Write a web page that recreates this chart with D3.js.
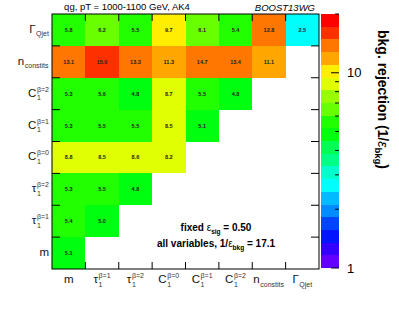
<!DOCTYPE html>
<html><head><meta charset="utf-8">
<script src="https://cdn.jsdelivr.net/npm/d3@7"></script>
<style>body{margin:0;background:#fff;} text{font-family:"Liberation Sans",Arial,sans-serif;}</style>
</head><body><svg id="c" width="399" height="309"></svg>
<script>
// variables: left-to-right on x
const varNames = ["m","tau1","tau2","C0","C1","C2","ncon","gamma"];
// rows top to bottom
const rowVars = ["gamma","ncon","C2","C1","C0","tau2","tau1","m"];
const rowGamma = [5.8, 6.2, 5.5, 9.7, 6.1, 5.4, 12.8, 2.5];
const rowNcon  = [13.1, 15.0, 13.3, 11.3, 14.7, 13.4, 11.1];
const rowC2    = [5.3, 5.6, 4.8, 8.7, 5.5, 4.8];
const rowC1    = [5.3, 5.5, 5.5, 8.5, 5.1];
const rowC0    = [8.8, 8.5, 8.6, 8.2];
const rowTau2  = [5.3, 5.5, 4.8];
const rowTau1  = [5.4, 5.0];
const rowM     = [5.1];
const rowsData = [rowGamma,rowNcon,rowC2,rowC1,rowC0,rowTau2,rowTau1,rowM];
const zMin = 1, zMax = 20, nContours = 20;
const colorbarTicks = [1, 10];
const minorTicks = [2,3,4,5,6,7,8,9,20];

const labels = {
  m:{main:"m"},
  tau1:{main:"τ",sub:"1",sup:"β=1"},
  tau2:{main:"τ",sub:"1",sup:"β=2"},
  C0:{main:"C",sub:"1",sup:"β=0"},
  C1:{main:"C",sub:"1",sup:"β=1"},
  C2:{main:"C",sub:"1",sup:"β=2"},
  ncon:{main:"n",sub:"constits"},
  gamma:{main:"Γ",sub:"Qjet"}
};

const svg = d3.select("#c");
const X0=52, X1=319, Y0=14, Y1=269;
const x = d3.scaleBand().domain(varNames).range([X0,X1]);
const y = d3.scaleBand().domain(rowVars).range([Y0,Y1]);

// ROOT pretty palette (HLS, hue 280 -> 0, 50 colours) and contour mapping
const pal = d3.range(50).map(i => d3.hsl(280-(i+1)*5.6, 1, 0.5).formatHex());
const contourColor = k => pal[Math.floor((k+0.99)*50/nContours)];
const L = Math.log10(zMax) - Math.log10(zMin);
const colorOf = v => {
  let k = Math.floor((Math.log10(v)-Math.log10(zMin))/L*nContours);
  k = Math.max(0, Math.min(nContours-1, k));
  return contourColor(k);
};

const cells = [];
rowsData.forEach((row,i)=>row.forEach((v,j)=>cells.push({r:rowVars[i], c:varNames[j], v})));

svg.append("g").selectAll("rect").data(cells).join("rect")
  .attr("x",d=>x(d.c)).attr("y",d=>y(d.r))
  .attr("width",x.bandwidth()).attr("height",y.bandwidth())
  .attr("fill",d=>colorOf(d.v)).attr("shape-rendering","crispEdges");
svg.append("g").selectAll("text").data(cells).join("text")
  .attr("x",d=>x(d.c)+x.bandwidth()/2).attr("y",d=>y(d.r)+y.bandwidth()/2+2)
  .attr("text-anchor","middle").attr("font-size",5.5).attr("font-weight","bold")
  .attr("fill","#222").text(d=>d.v.toFixed(1));

// frame
svg.append("rect").attr("x",X0).attr("y",Y0).attr("width",X1-X0).attr("height",Y1-Y0)
  .attr("fill","none").attr("stroke","#000").attr("stroke-width",1);
// ticks
const tk = svg.append("g").attr("stroke","#000").attr("stroke-width",1);
rowVars.slice(1).forEach(r=>{
  const yy = y(r);
  tk.append("line").attr("x1",X0).attr("x2",X0+8).attr("y1",yy).attr("y2",yy);
  tk.append("line").attr("x1",X1).attr("x2",X1-8).attr("y1",yy).attr("y2",yy);
});
varNames.slice(1).forEach(c=>{
  const xx = x(c);
  tk.append("line").attr("x1",xx).attr("x2",xx).attr("y1",Y1).attr("y2",Y1-7);
  tk.append("line").attr("x1",xx).attr("x2",xx).attr("y1",Y0).attr("y2",Y0+7);
});

// axis labels
function label(g, d){
  const m = g.append("text").attr("font-size",11.5).attr("x",0).attr("y",0).attr("fill","#111").text(d.main);
  const w = m.node().getComputedTextLength();
  if(d.sup) g.append("text").attr("font-size",7).attr("x",w+0.5).attr("y",-5).attr("fill","#333").text(d.sup);
  if(d.sub) g.append("text").attr("font-size",7).attr("x",w+0.5).attr("y",3.5).attr("fill","#333").text(d.sub);
  return g.node().getBBox();
}
rowVars.forEach(r=>{
  const g = svg.append("g");
  const bb = label(g, labels[r]);
  g.attr("transform",`translate(${49-(bb.x+bb.width)},${y(r)+y.bandwidth()/2+3})`);
});
varNames.forEach(c=>{
  const g = svg.append("g");
  const bb = label(g, labels[c]);
  g.attr("transform",`translate(${x(c)+x.bandwidth()/2-(bb.x+bb.width/2)},${283})`);
});

// colour bar
const CB0=321, CB1=339;
const zy = d3.scaleLog().domain([zMin,zMax]).range([268,14]);
d3.range(nContours).forEach(k=>{
  const lo = Math.pow(10, Math.log10(zMin)+k*L/nContours);
  const hi = Math.pow(10, Math.log10(zMin)+(k+1)*L/nContours);
  svg.append("rect").attr("x",CB0).attr("width",CB1-CB0)
    .attr("y",zy(hi)).attr("height",zy(lo)-zy(hi)).attr("fill",contourColor(k))
    .attr("shape-rendering","crispEdges");
});
colorbarTicks.forEach(t=>{
  svg.append("line").attr("x1",CB1).attr("x2",CB1-8).attr("y1",zy(t)).attr("y2",zy(t)).attr("stroke","#000");
  svg.append("text").attr("x",CB1+8).attr("y",zy(t)+4.5).attr("font-size",13).text(t);
});
minorTicks.forEach(t=>{
  svg.append("line").attr("x1",CB1).attr("x2",CB1-4).attr("y1",zy(t)).attr("y2",zy(t)).attr("stroke","#000");
});

// colour bar title (rotated)
const zt = svg.append("text").attr("transform","translate(378,30) rotate(90)")
  .attr("font-size",14).attr("font-weight","bold");
zt.append("tspan").text("bkg. rejection (1/");
zt.append("tspan").attr("font-weight","normal").attr("font-style","italic").text("ε");
zt.append("tspan").attr("font-size",9.5).attr("dy",3).text("bkg");
zt.append("tspan").attr("dy",-3).text(")");

// titles
svg.append("text").attr("x",127).attr("y",10).attr("text-anchor","middle").attr("font-size",9.5)
  .text("qg, pT = 1000-1100 GeV, AK4");
svg.append("text").attr("x",315).attr("y",11).attr("text-anchor","end").attr("font-size",9.5)
  .attr("font-style","italic").text("BOOST13WG");

// annotations
const a1 = svg.append("text").attr("x",216).attr("y",231).attr("text-anchor","middle")
  .attr("font-size",10).attr("font-weight","bold");
a1.append("tspan").text("fixed ");
a1.append("tspan").attr("font-weight","normal").text("ε");
a1.append("tspan").attr("font-size",6.5).attr("dy",2.5).text("sig");
a1.append("tspan").attr("dy",-2.5).text(" = 0.50");
const a2 = svg.append("text").attr("x",216).attr("y",247).attr("text-anchor","middle")
  .attr("font-size",10).attr("font-weight","bold");
a2.append("tspan").text("all variables, 1/");
a2.append("tspan").attr("font-weight","normal").text("ε");
a2.append("tspan").attr("font-size",6.5).attr("dy",2.5).text("bkg");
a2.append("tspan").attr("dy",-2.5).text(" = 17.1");
</script></body></html>
